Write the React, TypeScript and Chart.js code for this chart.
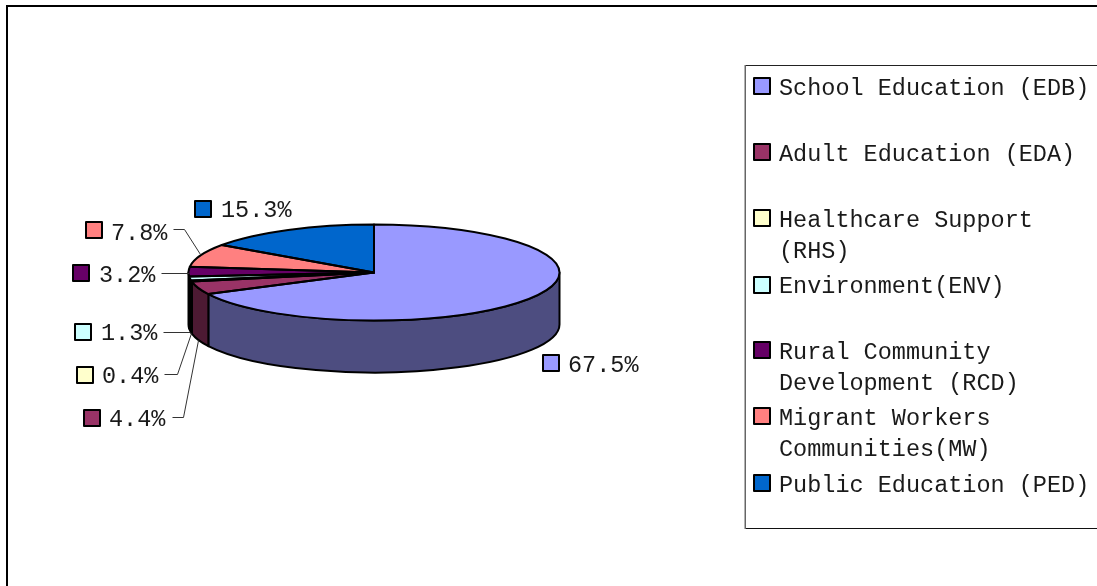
import React, { useEffect, useRef } from "react";
import { Chart, registerables } from "chart.js";

Chart.register(...registerables);

const categories: string[][] = [
  ["School Education (EDB)"],
  ["Adult Education (EDA)"],
  ["Healthcare Support", "(RHS)"],
  ["Environment(ENV)"],
  ["Rural Community", "Development (RCD)"],
  ["Migrant Workers", "Communities(MW)"],
  ["Public Education (PED)"],
];
const shares = [67.5, 4.4, 0.4, 1.3, 3.2, 7.8, 15.3];
const topColors = ["#9999FF", "#993366", "#FFFFCC", "#CCFFFF", "#660066", "#FF8080", "#0066CC"];
const sideColors = ["#4D4D80", "#4D1A33", "#808066", "#668080", "#330033", "#804040", "#003366"];

const W = 1097;
const H = 586;
const FONT = '23.5px "Liberation Mono", monospace';
const TEXT = "#1a1a1a";

const CX = 374;
const CY = 272.5;
const RX = 185.5;
const RY = 48;
const DEPTH = 52;

// swatch [x, y], text x, text centre y, leader polyline
const labelLayout: { sx: number; sy: number; tx: number; ty: number; leader: number[][] }[] = [
  { sx: 543, sy: 355, tx: 568, ty: 365.5, leader: [] },
  { sx: 84, sy: 410, tx: 109, ty: 419.5, leader: [[172, 417], [183, 417], [198, 340]] },
  { sx: 77, sy: 367, tx: 102, ty: 376.5, leader: [[164, 374], [177, 374], [191, 333]] },
  { sx: 75, sy: 324, tx: 101, ty: 333.5, leader: [[163, 332], [190, 332]] },
  { sx: 73, sy: 265, tx: 99, ty: 275.5, leader: [[161, 273], [189, 273]] },
  { sx: 86, sy: 222, tx: 111, ty: 233.5, leader: [[173, 229], [184, 229], [200, 254]] },
  { sx: 195, sy: 201, tx: 221, ty: 210.5, leader: [] },
];
const legendSwatchY = [78, 144, 210, 277, 342, 408, 475];
const legendTextY = [88.5, 154.5, 220.5, 286.5, 352.5, 418.5, 485.5];
const LEGEND_LINE = 31;

function swatch(ctx: CanvasRenderingContext2D, x: number, y: number, color: string) {
  ctx.fillStyle = color;
  ctx.fillRect(x, y, 16, 16);
  ctx.strokeStyle = "#000";
  ctx.lineWidth = 2;
  ctx.strokeRect(x, y, 16, 16);
}

const pie3d = {
  id: "pie3d",
  beforeDraw(chart: any) {
    const ctx: CanvasRenderingContext2D = chart.ctx;
    ctx.save();
    ctx.fillStyle = "#fff";
    ctx.fillRect(0, 0, W, H);
    // outer frame
    ctx.fillStyle = "#000";
    ctx.fillRect(6, 5, W - 6, 2);
    ctx.fillRect(6, 5, 2, H - 5);
    // legend frame
    ctx.fillStyle = "#222";
    ctx.fillRect(745, 65, W - 745, 1);
    ctx.fillStyle = "#111";
    ctx.fillRect(745, 528, W - 745, 1);
    ctx.fillStyle = "#666";
    ctx.fillRect(744.5, 65, 1.5, 464);
    ctx.restore();
  },
  beforeDatasetsDraw(chart: any) {
    const ctx: CanvasRenderingContext2D = chart.ctx;
    const arcs = chart.getDatasetMeta(0).data;
    ctx.save();
    ctx.lineWidth = 2;
    ctx.strokeStyle = "#000";
    ctx.lineJoin = "round";
    arcs.forEach((arc: any, i: number) => {
      const a0 = Math.max(arc.startAngle, 0);
      const a1 = Math.min(arc.endAngle, Math.PI);
      if (a1 <= a0) return;
      const ry = (arc.outerRadius * RY) / RX;
      ctx.beginPath();
      ctx.ellipse(arc.x, arc.y, arc.outerRadius, ry, 0, a0, a1);
      ctx.ellipse(arc.x, arc.y + DEPTH, arc.outerRadius, ry, 0, a1, a0, true);
      ctx.closePath();
      ctx.fillStyle = sideColors[i];
      ctx.fill();
      ctx.stroke();
    });
    ctx.restore();
    // squash the pie drawn by Chart.js into the tilted ellipse
    ctx.save();
    ctx.translate(CX, CY);
    ctx.scale(1, RY / RX);
    ctx.translate(-CX, -CY);
  },
  afterDatasetsDraw(chart: any) {
    const ctx: CanvasRenderingContext2D = chart.ctx;
    ctx.restore();
    const arcs = chart.getDatasetMeta(0).data;
    const values: number[] = chart.data.datasets[0].data;
    ctx.save();
    ctx.lineWidth = 2;
    ctx.strokeStyle = "#000";
    ctx.lineJoin = "round";
    arcs.forEach((arc: any) => {
      const ry = (arc.outerRadius * RY) / RX;
      ctx.beginPath();
      ctx.moveTo(arc.x, arc.y);
      ctx.ellipse(arc.x, arc.y, arc.outerRadius, ry, 0, arc.startAngle, arc.endAngle);
      ctx.closePath();
      ctx.stroke();
    });

    // data labels
    ctx.font = FONT;
    ctx.textBaseline = "middle";
    ctx.textAlign = "left";
    values.forEach((v, i) => {
      const l = labelLayout[i];
      if (l.leader.length) {
        ctx.beginPath();
        ctx.lineWidth = 1;
        ctx.strokeStyle = "#333";
        l.leader.forEach(([x, y], k) => (k ? ctx.lineTo(x + 0.5, y + 0.5) : ctx.moveTo(x + 0.5, y + 0.5)));
        ctx.stroke();
      }
      swatch(ctx, l.sx, l.sy, topColors[i]);
      ctx.fillStyle = TEXT;
      ctx.fillText(`${v.toFixed(1)}%`, l.tx, l.ty);
    });

    // legend
    (chart.data.labels as string[][]).forEach((lines, i) => {
      swatch(ctx, 754, legendSwatchY[i], topColors[i]);
      ctx.fillStyle = TEXT;
      lines.forEach((line, k) => ctx.fillText(line, 779, legendTextY[i] + k * LEGEND_LINE));
    });
    ctx.restore();
  },
};

export default function App() {
  const ref = useRef<HTMLCanvasElement>(null);
  useEffect(() => {
    const chart = new Chart(ref.current!, {
      type: "pie",
      data: {
        labels: categories as any,
        datasets: [{ data: shares, backgroundColor: topColors, borderWidth: 0 }],
      },
      options: {
        responsive: false,
        animation: false,
        rotation: 0,
        layout: { padding: { left: CX - RX, right: W - CX - RX, top: CY - RX, bottom: H - CY - RX } },
        plugins: { legend: { display: false }, tooltip: { enabled: false }, title: { display: false } },
      },
      plugins: [pie3d],
    } as any);
    return () => chart.destroy();
  }, []);
  return (
    <div style={{ position: "fixed", left: 0, top: 0, width: W, height: H, overflow: "hidden", background: "#fff" }}>
      <canvas ref={ref} width={W} height={H} style={{ display: "block" }} />
    </div>
  );
}
